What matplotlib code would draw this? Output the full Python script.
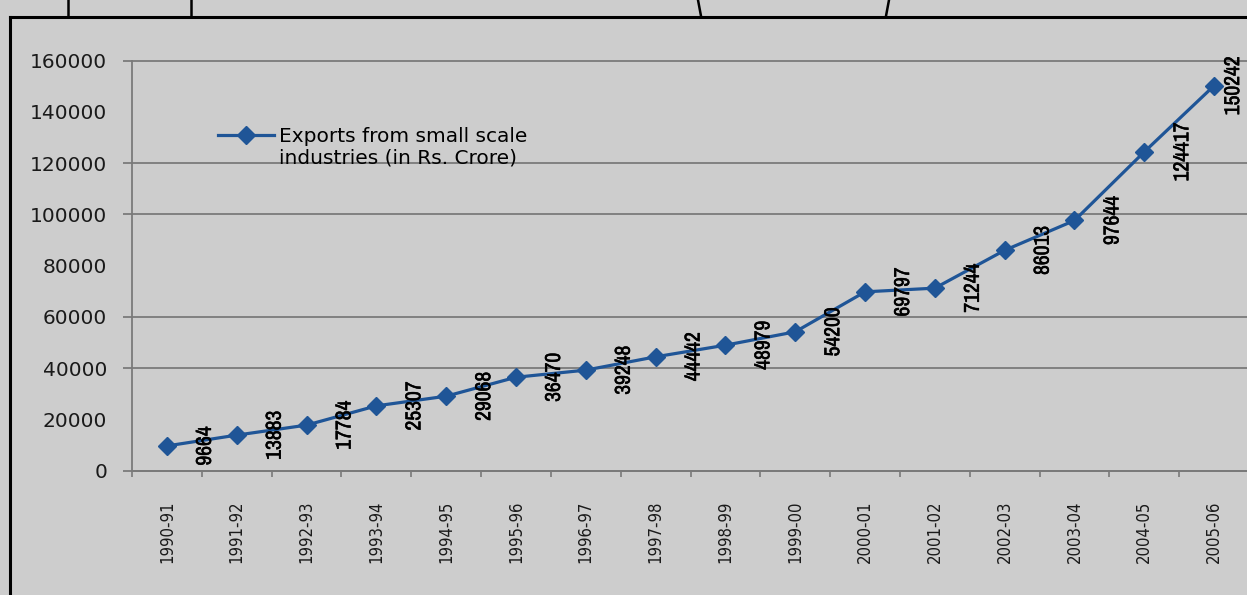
import matplotlib
matplotlib.use("Agg")
import matplotlib.pyplot as plt
from matplotlib.lines import Line2D
import matplotlib.patheffects as pe

years = ["1990-91", "1991-92", "1992-93", "1993-94", "1994-95", "1995-96",
         "1996-97", "1997-98", "1998-99", "1999-00", "2000-01", "2001-02",
         "2002-03", "2003-04", "2004-05", "2005-06"]
exports = [9664, 13883, 17784, 25307, 29068, 36470, 39248, 44442, 48979,
           54200, 69797, 71244, 86013, 97644, 124417, 150242]
y_ticks = [0, 20000, 40000, 60000, 80000, 100000, 120000, 140000, 160000]
grid_rows = [0, 40000, 60000, 100000, 120000, 160000]   # rows that survive in the picture
legend_lines = ["Exports from small scale", "industries (in Rs. Crore)"]

BG = "#cdcdcd"
BLUE = "#1f5597"
GRID = "#7a7a7a"
W, H = 1247, 595
NARROW = ["Archivo Narrow", "DejaVu Sans"]

fig = plt.figure(figsize=(W / 100, H / 100), dpi=100, facecolor=BG)
ax = fig.add_axes([132 / W, 1 - 470.7 / H, 1117 / W, 410 / H])
ax.set_facecolor(BG)

x = list(range(len(years)))
line, = ax.plot(x, exports, color=BLUE, lw=2.3, marker="D", ms=9.5, mec=BLUE, mfc=BLUE,
                zorder=3)

# value labels, rotated, to the right of each marker (last one pulled in)
bold = [pe.withStroke(linewidth=0.4, foreground="black")]
for i, v in enumerate(exports):
    dx = 38 if i < len(exports) - 1 else 19
    ax.annotate(str(v), (i, v), xytext=(dx, 0), textcoords="offset pixels",
                rotation=90, ha="center", va="center", fontsize=15.5,
                fontweight="bold", family=NARROW, stretch="condensed",
                color="black", zorder=4, path_effects=bold)

ax.set_xlim(-0.5, len(years) - 0.5)
ax.set_ylim(0, 160000)

# ticks on category boundaries, labels on category centres
ax.set_xticks([i - 0.5 for i in range(len(years) + 1)])
ax.set_xticklabels([])
ax.set_xticks(x, minor=True)
ax.set_xticklabels(years, minor=True, rotation=90, fontsize=12, family="DejaVu Sans",
                   stretch="condensed", va="top", color="#1a1a1a")
ax.tick_params(axis="x", which="major", length=4.5, width=1.2, color=GRID, direction="out")
ax.tick_params(axis="x", which="minor", length=0, pad=21.5)

ax.set_yticks(y_ticks)
ax.set_yticklabels([str(t) for t in y_ticks], fontsize=14.5, family="DejaVu Sans",
                   color="#1a1a1a")
ax.tick_params(axis="y", length=0, pad=18)

ax.hlines(grid_rows, -9 / 1117, 1, transform=ax.get_yaxis_transform(), color=GRID,
          lw=1.3, clip_on=False, zorder=1)

for s in ["top", "right"]:
    ax.spines[s].set_visible(False)
for s in ["left", "bottom"]:
    ax.spines[s].set_color(GRID)
    ax.spines[s].set_linewidth(1.3)

blank = Line2D([], [], lw=0)
ax.legend([line, blank], legend_lines, loc="upper left", bbox_to_anchor=(218 / W, 1 - 127 / H),
          bbox_transform=fig.transFigure, frameon=False, fontsize=14.5,
          handlelength=2.8, handletextpad=0.25, borderpad=0, borderaxespad=0,
          labelspacing=0.12)

# slide frame and the clipped title strokes at the very top
fig.add_artist(Line2D([10 / W, 10 / W], [0, 1 - 17 / H], transform=fig.transFigure,
                      color="black", lw=2.2))
fig.add_artist(Line2D([10 / W, 1], [1 - 17 / H, 1 - 17 / H], transform=fig.transFigure,
                      color="black", lw=2.2))
for x0, x1 in [(68, 68), (191, 191), (698, 701), (889, 886)]:
    fig.add_artist(Line2D([x0 / W, x1 / W], [1, 1 - 16 / H], transform=fig.transFigure,
                          color="black", lw=1.8))

fig.savefig("out.png", dpi=100, facecolor=BG)
